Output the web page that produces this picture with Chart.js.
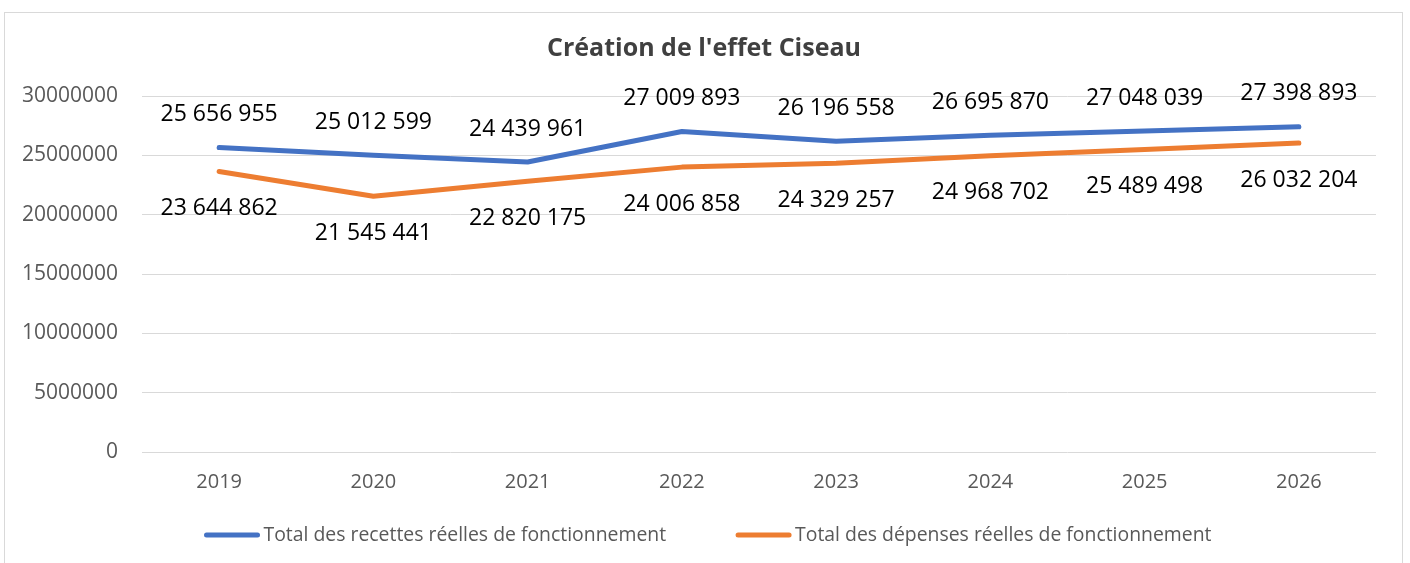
<!DOCTYPE html>
<html>
<head>
<meta charset="utf-8">
<script src="https://cdn.jsdelivr.net/npm/chart.js@4.4.1/dist/chart.umd.min.js"></script>
<style>
  html, body { margin: 0; padding: 0; background: #fff; overflow: hidden; }
  #wrap { width: 1410px; height: 563px; }
</style>
</head>
<body>
<div id="wrap"><canvas id="chart_one"></canvas></div>
<script>
const years = ['2019', '2020', '2021', '2022', '2023', '2024', '2025', '2026'];
const recettes = [25656955, 25012599, 24439961, 27009893, 26196558, 26695870, 27048039, 27398893];
const depenses = [23644862, 21545441, 22820175, 24006858, 24329257, 24968702, 25489498, 26032204];
const seriesNames = ['Total des recettes réelles de fonctionnement', 'Total des dépenses réelles de fonctionnement'];
const yTicks = [0, 5000000, 10000000, 15000000, 20000000, 25000000, 30000000];
const chartTitle = "Création de l'effet Ciseau";

const FONT = "'Open Sans', 'Liberation Sans', sans-serif";

function fmt(v){
  return String(v).replace(/\B(?=(\d{3})+(?!\d))/g, ' ');
}

// frame, title, data labels and legend
const decor = {
  id: 'decor',
  beforeDraw(chart){
    const ctx = chart.ctx;
    ctx.save();
    ctx.fillStyle = '#fff';
    ctx.fillRect(0, 0, chart.width, chart.height);
    ctx.strokeStyle = '#d9d9d9';
    ctx.lineWidth = 1;
    ctx.strokeRect(4.5, 12.5, 1398, 600);
    ctx.restore();
  },
  afterDatasetsDraw(chart){
    const ctx = chart.ctx;
    ctx.save();
    // title
    ctx.font = "bold 25px " + FONT;
    ctx.fillStyle = '#404040';
    ctx.textAlign = 'center';
    ctx.textBaseline = 'middle';
    ctx.fillText(chartTitle, 704, 49);

    // data labels
    ctx.font = "23px " + FONT;
    ctx.fillStyle = '#000';
    chart.data.datasets.forEach((ds, i) => {
      const meta = chart.getDatasetMeta(i);
      const off = i === 0 ? -33 : 37;
      meta.data.forEach((pt, j) => {
        ctx.fillText(fmt(ds.data[j]), pt.x, pt.y + off);
      });
    });

    // legend
    ctx.font = "19.4px " + FONT;
    ctx.textAlign = 'left';
    const lineW = 55, gap = 4, itemGap = 70;
    const widths = chart.data.datasets.map(ds => lineW + gap + ctx.measureText(ds.label).width);
    const total = widths.reduce((a, b) => a + b, 0) + itemGap * (widths.length - 1);
    let x = 708 - total / 2;
    const y = 535;
    chart.data.datasets.forEach((ds, i) => {
      ctx.strokeStyle = ds.borderColor;
      ctx.lineWidth = 5;
      ctx.lineCap = 'round';
      ctx.beginPath();
      ctx.moveTo(x + 2, y);
      ctx.lineTo(x + lineW - 2, y);
      ctx.stroke();
      ctx.fillStyle = '#595959';
      ctx.fillText(ds.label, x + lineW + gap, y);
      x += widths[i] + itemGap;
    });
    ctx.restore();
  }
};

new Chart(document.getElementById('chart_one'), {
  type: 'line',
  data: {
    labels: years,
    datasets: [
      {
        label: seriesNames[0],
        data: recettes,
        borderColor: '#4472C4',
        backgroundColor: '#4472C4',
        borderWidth: 5,
        pointRadius: 0,
        tension: 0,
        borderCapStyle: 'round',
        borderJoinStyle: 'round'
      },
      {
        label: seriesNames[1],
        data: depenses,
        borderColor: '#ED7D31',
        backgroundColor: '#ED7D31',
        borderWidth: 5,
        pointRadius: 0,
        tension: 0,
        borderCapStyle: 'round',
        borderJoinStyle: 'round'
      }
    ]
  },
  options: {
    responsive: true,
    maintainAspectRatio: false,
    animation: false,
    layout: { padding: { left: 0, right: 34, top: 96, bottom: 51 } },
    plugins: {
      legend: { display: false },
      title: { display: false },
      tooltip: { enabled: false }
    },
    scales: {
      x: {
        offset: true,
        grid: { display: false, drawTicks: false },
        border: { display: false },
        ticks: { color: '#595959', font: { family: FONT, size: 20 }, padding: 18 },
        afterFit(scale){ scale.height = 60; }
      },
      y: {
        min: 0,
        max: 30000000,
        afterBuildTicks(scale){ scale.ticks = yTicks.map(v => ({ value: v })); },
        grid: { color: '#d9d9d9', lineWidth: 1, drawTicks: false },
        border: { display: false },
        ticks: {
          color: '#595959',
          font: { family: FONT, size: 21 },
          padding: 24,
          callback: v => String(v)
        },
        afterFit(scale){ scale.width = 142; }
      }
    }
  },
  plugins: [decor]
});
</script>
</body>
</html>
